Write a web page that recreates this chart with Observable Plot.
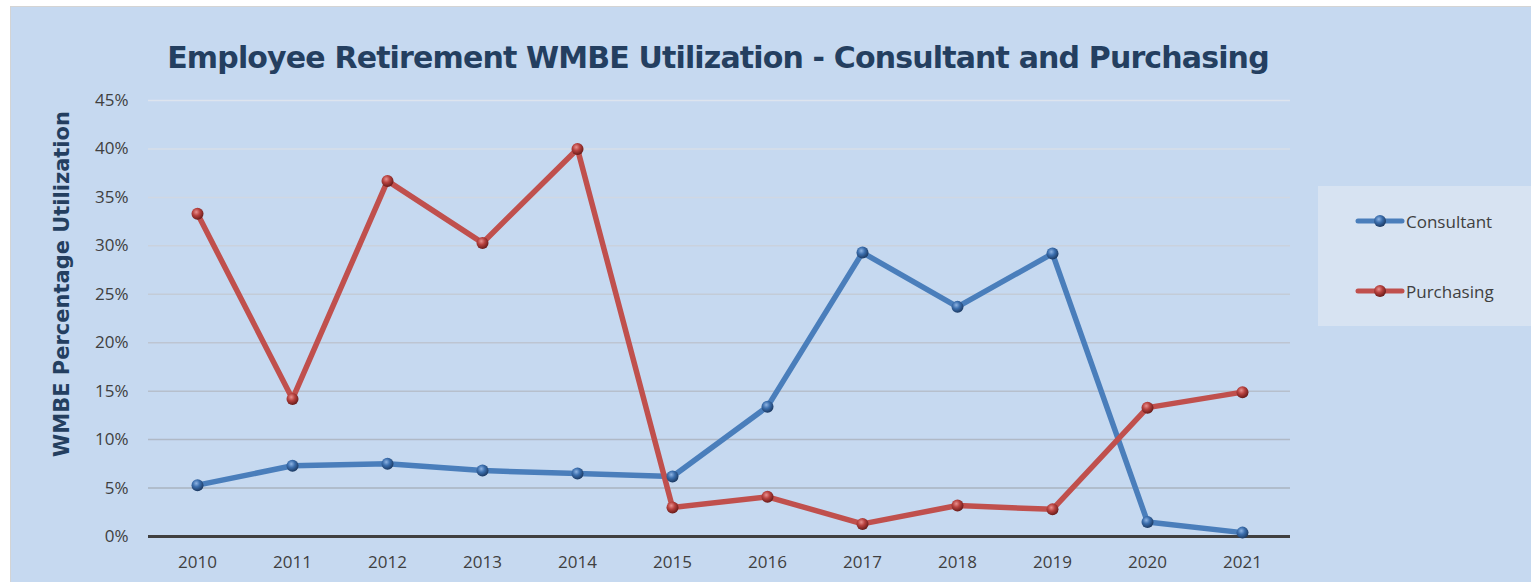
<!DOCTYPE html>
<html>
<head>
<meta charset="utf-8">
<script src="https://cdn.jsdelivr.net/npm/d3@7"></script>
<script src="https://cdn.jsdelivr.net/npm/@observablehq/plot@0.6"></script>
<style>
  html, body { margin: 0; padding: 0; background: #ffffff; }
  #page { position: relative; width: 1531px; height: 582px; overflow: hidden; }
  #frame { position: absolute; left: 10px; top: 6px; width: 1530px; height: 590px;
           background: #c6d9f0; border: 1px solid #d4d4d4; box-sizing: border-box; }
  #title { position: absolute; left: 0; top: 40px; width: 1436px; text-align: center;
           font-family: "DejaVu Sans", Verdana, sans-serif; font-weight: bold; font-size: 30px;
           color: #243f60; white-space: nowrap; letter-spacing: -0.85px; }
  #ylabel { position: absolute; left: 62px; top: 284px; transform: translate(-50%, -50%) rotate(-90deg);
            font-family: "DejaVu Sans", Verdana, sans-serif; font-weight: bold; font-size: 21px;
            color: #243f60; white-space: nowrap; }
  #legend { position: absolute; left: 1318px; top: 186px; width: 213px; height: 140px;
            background: #d7e3f2; }
  .item { position: absolute; left: 37px; height: 20px; display: flex; align-items: center;
          font-family: "Open Sans", "Noto Sans", sans-serif; font-size: 17px; color: #404040; }
  .item svg { margin-right: 1px; }
  #chart { position: absolute; left: 0; top: 0; }
</style>
</head>
<body>
<div id="page">
  <div id="frame"></div>
  <div id="title">Employee Retirement WMBE Utilization - Consultant and Purchasing</div>
  <div id="ylabel">WMBE Percentage Utilization</div>
  <div id="chart"></div>
  <div id="legend"></div>
</div>
<script>
const years = ["2010","2011","2012","2013","2014","2015","2016","2017","2018","2019","2020","2021"];
const consultant = [0.053, 0.073, 0.075, 0.068, 0.065, 0.062, 0.134, 0.293, 0.237, 0.292, 0.015, 0.004];
const purchasing = [0.333, 0.142, 0.367, 0.303, 0.400, 0.030, 0.041, 0.013, 0.032, 0.028, 0.133, 0.149];
const seriesNames = ["Consultant", "Purchasing"];
const seriesColors = ["#4a7ebb", "#c0504d"];
const yTicks = [0, 0.05, 0.10, 0.15, 0.20, 0.25, 0.30, 0.35, 0.40, 0.45];

const rows = [];
years.forEach((y, i) => {
  rows.push({year: y, value: consultant[i], series: seriesNames[0]});
  rows.push({year: y, value: purchasing[i], series: seriesNames[1]});
});

const gridColor = d3.interpolateRgb("#a3adbb", "#dde4ee");

const chart = Plot.plot({
  width: 1531,
  height: 582,
  marginLeft: 148,
  marginRight: 241,
  marginTop: 100,
  marginBottom: 46,
  style: {background: "transparent", fontFamily: "'Open Sans', 'Noto Sans', sans-serif", fontSize: "17px", color: "#404040"},
  x: {type: "point", domain: years, padding: 0.5, label: null},
  y: {domain: [0, 0.45], label: null},
  color: {domain: seriesNames, range: seriesColors},
  marks: [
    Plot.ruleY(yTicks.filter(d => d > 0), {stroke: d => gridColor(d / 0.45), strokeWidth: 1.5}),
    Plot.axisY({ticks: yTicks, tickSize: 0, tickPadding: 20, tickFormat: d => Math.round(d * 100) + "%", fill: "#404040", fontSize: 17}),
    Plot.axisX({tickSize: 0, tickPadding: 19, fill: "#404040", fontSize: 17}),
    Plot.ruleY([0], {stroke: "#404040", strokeWidth: 3}),
    Plot.line(rows, {x: "year", y: "value", z: "series", stroke: "series", strokeWidth: 5.5, strokeLinejoin: "round", strokeLinecap: "round"}),
    Plot.dot(rows, {x: "year", y: "value", r: 6, fill: d => d.series === "Consultant" ? "url(#gBlue)" : "url(#gRed)", stroke: "none"})
  ]
});

// sphere-like gradients for markers
const svg = d3.select(chart);
const defs = svg.insert("defs", ":first-child");
function sphere(id, light, mid, dark) {
  const g = defs.append("radialGradient").attr("id", id).attr("cx", "40%").attr("cy", "35%").attr("r", "65%");
  g.append("stop").attr("offset", "0%").attr("stop-color", light);
  g.append("stop").attr("offset", "45%").attr("stop-color", mid);
  g.append("stop").attr("offset", "100%").attr("stop-color", dark);
}
sphere("gBlue", "#8fb4e3", "#3c6fae", "#1c3a63");
sphere("gRed", "#e8918f", "#b8423f", "#6a1c1a");

document.getElementById("chart").appendChild(chart);

// legend
const legend = document.getElementById("legend");
const legendTops = [25, 95];
seriesNames.forEach((name, i) => {
  const item = document.createElement("div");
  item.className = "item";
  item.style.top = legendTops[i] + "px";
  const grad = i === 0 ? "url(#gBlue)" : "url(#gRed)";
  item.innerHTML = `<svg width="50" height="20"><line x1="3" x2="47" y1="10" y2="10" stroke="${seriesColors[i]}" stroke-width="5" stroke-linecap="round"/><circle cx="25" cy="10" r="6" fill="${grad}"/></svg><span>${name}</span>`;
  legend.appendChild(item);
});
</script>
</body>
</html>
